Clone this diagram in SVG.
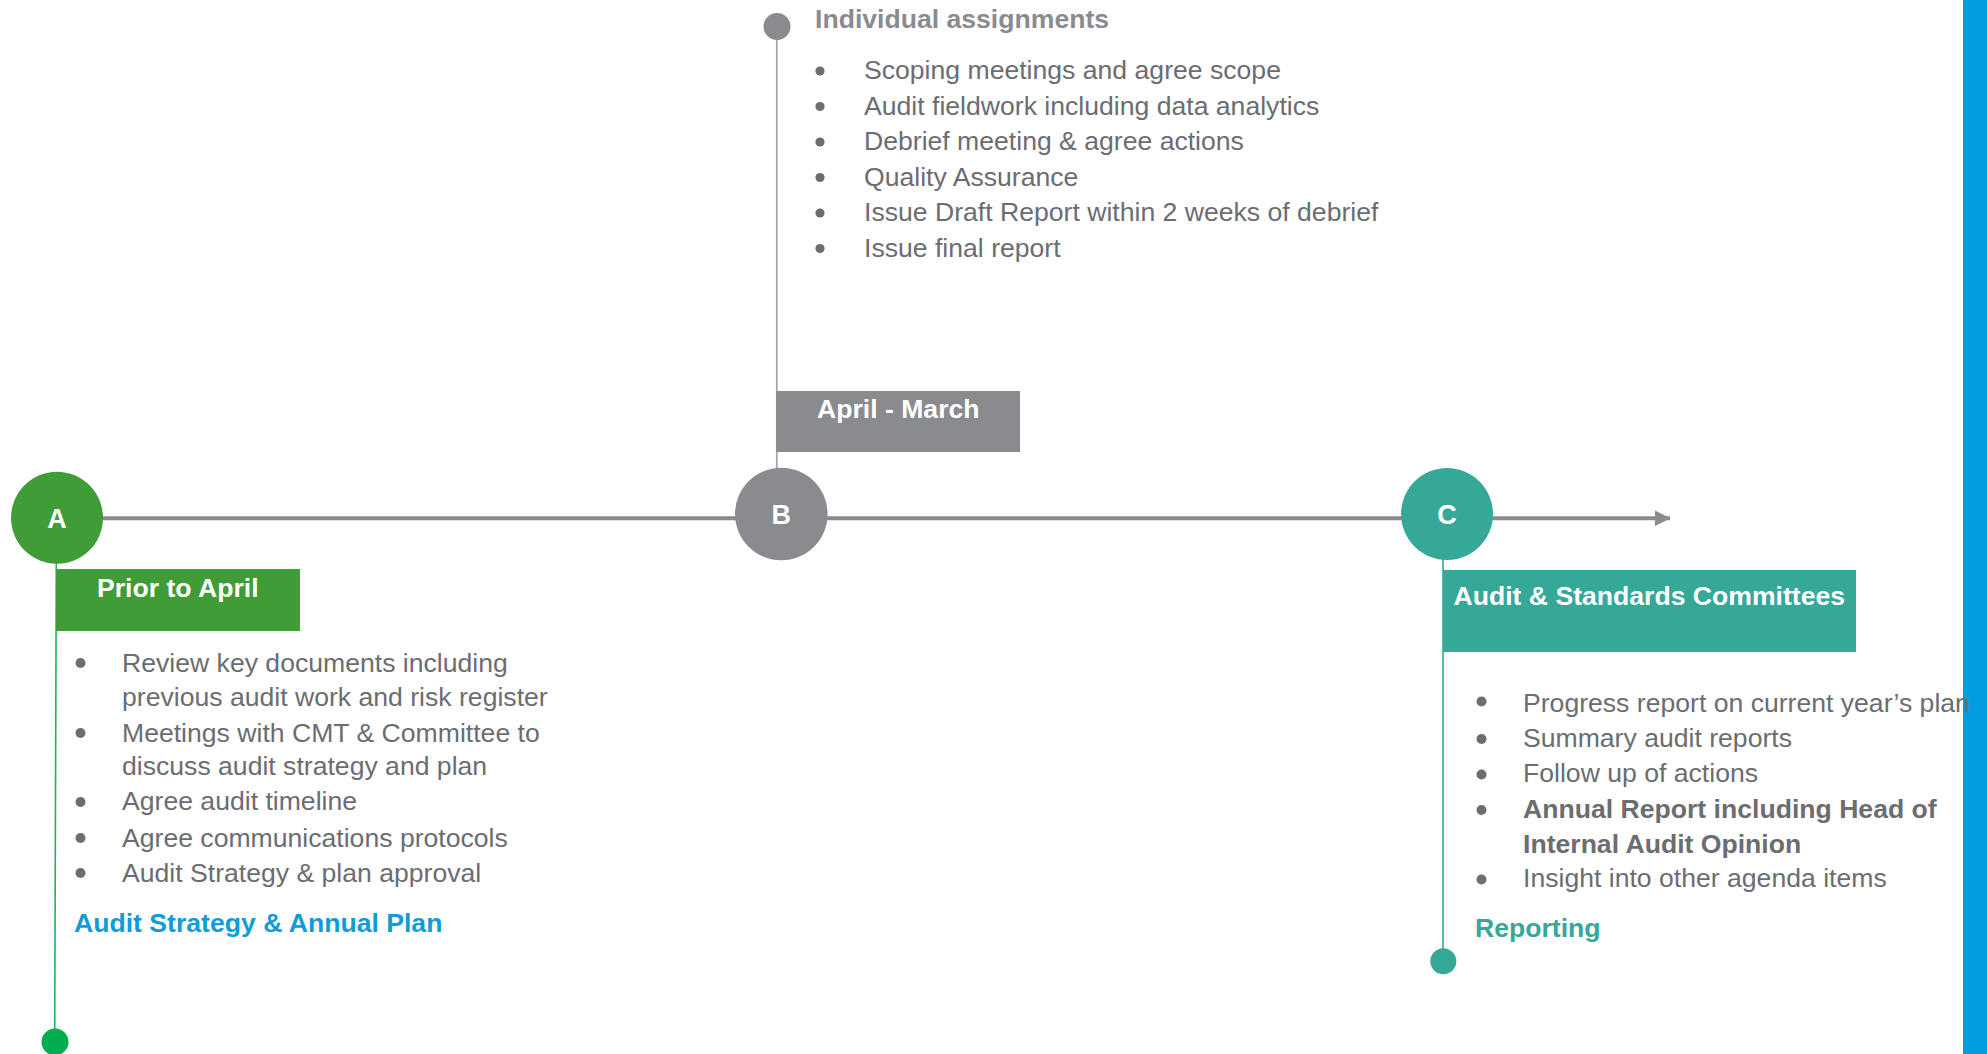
<svg xmlns="http://www.w3.org/2000/svg" width="1987" height="1054" viewBox="0 0 1987 1054">
  <defs>
    <marker id="arrow" viewBox="0 0 16 16" refX="15.5" refY="8" markerWidth="16" markerHeight="16" markerUnits="userSpaceOnUse" orient="auto">
      <path d="M0,0 L16,8 L0,16 Z" fill="#898b8e"/>
    </marker>
  </defs>
  <style>
    text { font-family: "Liberation Sans", Arial, Helvetica, sans-serif; font-size: 26.6px; }
    .body { fill: #6b6d70; }
    .bold { font-weight: bold; }
    .white { fill: #ffffff; font-weight: bold; }
    .letter { fill: #ffffff; font-weight: bold; font-size: 27px; text-anchor: middle; }
    .bullet { fill: #6b6d70; }
  </style>
  <rect x="0" y="0" width="1987" height="1054" fill="#ffffff"/>
  <rect id="side-bar" x="1963" y="0" width="24" height="1054" fill="#029ddf"/>

  <g id="connectors">
    <line x1="100" y1="518.3" x2="1670" y2="518.3" stroke="#898b8e" stroke-width="4" marker-end="url(#arrow)"/>
    <line x1="56.3" y1="560" x2="54.7" y2="1035" stroke="#1db35a" stroke-width="1.6"/>
    <line x1="776.8" y1="30" x2="776.8" y2="470" stroke="#a5a7aa" stroke-width="1.8"/>
    <line x1="1443" y1="555" x2="1443" y2="955" stroke="#35a898" stroke-width="1.6"/>
  </g>

  <g id="node-A">
    <circle cx="57" cy="517.8" r="46" fill="#3f9c37"/>
    <text class="letter" x="57" y="527.5">A</text>
    <rect x="56" y="569" width="244" height="62" fill="#3f9c37"/>
    <text class="white" x="97" y="596.7">Prior to April</text>
    <g class="bullet">
      <circle cx="80.5" cy="663" r="5"/>
      <circle cx="80.5" cy="733" r="5"/>
      <circle cx="80.5" cy="802" r="5"/>
      <circle cx="80.5" cy="838" r="5"/>
      <circle cx="80.5" cy="873" r="5"/>
    </g>
    <text class="body" x="122" y="672">Review key documents including</text>
    <text class="body" x="122" y="706">previous audit work and risk register</text>
    <text class="body" x="122" y="741.7">Meetings with CMT &amp; Committee to</text>
    <text class="body" x="122" y="775">discuss audit strategy and plan</text>
    <text class="body" x="122" y="810">Agree audit timeline</text>
    <text class="body" x="122" y="846.5">Agree communications protocols</text>
    <text class="body" x="122" y="881.5">Audit Strategy &amp; plan approval</text>
    <text class="bold" x="74" y="931.7" fill="#0f9cd9">Audit Strategy &amp; Annual Plan</text>
    <circle cx="55" cy="1042" r="13.5" fill="#00ad4f"/>
  </g>

  <g id="node-B">
    <circle cx="777" cy="26.5" r="13.5" fill="#898b8e"/>
    <text class="bold" x="815" y="28" fill="#898b8e">Individual assignments</text>
    <g class="bullet">
      <circle cx="820" cy="71" r="4.6"/>
      <circle cx="820" cy="106.5" r="4.6"/>
      <circle cx="820" cy="142" r="4.6"/>
      <circle cx="820" cy="177.5" r="4.6"/>
      <circle cx="820" cy="213" r="4.6"/>
      <circle cx="820" cy="248.5" r="4.6"/>
    </g>
    <text class="body" x="864" y="79">Scoping meetings and agree scope</text>
    <text class="body" x="864" y="114.5">Audit fieldwork including data analytics</text>
    <text class="body" x="864" y="150">Debrief meeting &amp; agree actions</text>
    <text class="body" x="864" y="185.5">Quality Assurance</text>
    <text class="body" x="864" y="221">Issue Draft Report within 2 weeks of debrief</text>
    <text class="body" x="864" y="256.5">Issue final report</text>
    <rect x="776" y="391" width="244" height="61" fill="#898b8e"/>
    <text class="white" x="817" y="418.3">April - March</text>
    <circle cx="781.3" cy="514" r="46.3" fill="#898b8e"/>
    <text class="letter" x="781.3" y="523.5">B</text>
  </g>

  <g id="node-C">
    <circle cx="1447" cy="514" r="46" fill="#35a898"/>
    <text class="letter" x="1447" y="523.5">C</text>
    <rect x="1443" y="570" width="413" height="82" fill="#35a898"/>
    <text class="white" x="1453.5" y="605">Audit &amp; Standards Committees</text>
    <g class="bullet">
      <circle cx="1481.5" cy="701.5" r="5"/>
      <circle cx="1481.5" cy="739" r="5"/>
      <circle cx="1481.5" cy="774.5" r="5"/>
      <circle cx="1481.5" cy="810" r="5"/>
      <circle cx="1481.5" cy="879.5" r="5"/>
    </g>
    <text class="body" x="1523" y="711.7">Progress report on current year’s plan</text>
    <text class="body" x="1523" y="746.7">Summary audit reports</text>
    <text class="body" x="1523" y="781.7">Follow up of actions</text>
    <text class="body bold" x="1523" y="818.3">Annual Report including Head of</text>
    <text class="body bold" x="1523" y="853.3">Internal Audit Opinion</text>
    <text class="body" x="1523" y="887.3">Insight into other agenda items</text>
    <text class="bold" x="1475" y="937.3" fill="#35a898">Reporting</text>
    <circle cx="1443.3" cy="961.3" r="13" fill="#35a898"/>
  </g>
</svg>
